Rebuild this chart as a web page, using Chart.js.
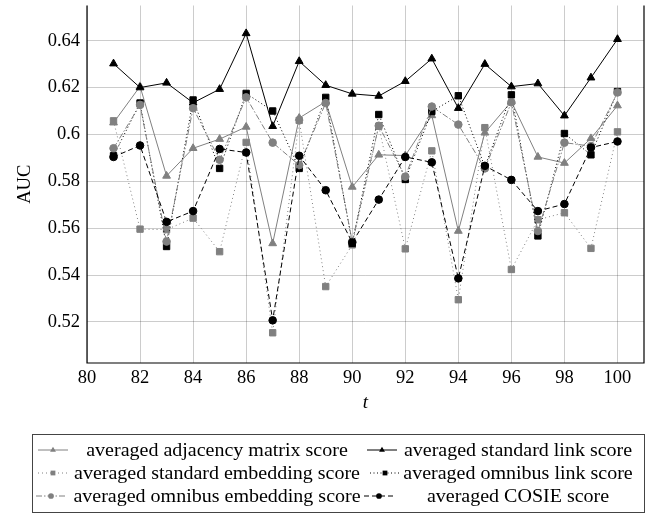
<!DOCTYPE html>
<html lang="en">
<head>
<meta charset="UTF-8">
<title>Averaged AUC scores</title>
<script src="https://cdn.jsdelivr.net/npm/chart.js"></script>
<style>
  html, body { margin: 0; padding: 0; background: #fff; }
  canvas { display: block; }
</style>
</head>
<body>
<canvas id="aucChart" width="662" height="516"></canvas>
<script>
const tValues = [81, 82, 83, 84, 85, 86, 87, 88, 89, 90, 91, 92, 93, 94, 95, 96, 97, 98, 99, 100];

const adjacencyScore     = [0.6050, 0.6205, 0.5823, 0.5941, 0.5980, 0.6032, 0.5535, 0.6070, 0.6140, 0.5776,
                            0.5913, 0.5910, 0.6081, 0.5588, 0.6007, 0.6140, 0.5904, 0.5878, 0.5983, 0.6123];
const standardLink       = [0.6302, 0.6200, 0.6220, 0.6135, 0.6193, 0.6431, 0.6035, 0.6312, 0.6210, 0.6173,
                            0.6164, 0.6227, 0.6323, 0.6112, 0.6300, 0.6204, 0.6217, 0.6080, 0.6242, 0.6406];
const standardEmbedding  = [0.6058, 0.5596, 0.5594, 0.5643, 0.5500, 0.5966, 0.5154, 0.6060, 0.5351, 0.5529,
                            0.6035, 0.5512, 0.5930, 0.5295, 0.6029, 0.5424, 0.5636, 0.5666, 0.5514, 0.6011];
const omnibusLink        = [0.5909, 0.6134, 0.5522, 0.6147, 0.5855, 0.6175, 0.6100, 0.5855, 0.6158, 0.5535,
                            0.6085, 0.5808, 0.6098, 0.6165, 0.5862, 0.6169, 0.5567, 0.6004, 0.5913, 0.6183];
const omnibusEmbedding   = [0.5941, 0.6126, 0.5543, 0.6112, 0.5892, 0.6158, 0.5965, 0.5869, 0.6134, 0.5543,
                            0.6037, 0.5820, 0.6119, 0.6042, 0.5855, 0.6137, 0.5588, 0.5965, 0.5950, 0.6179];
const cosieScore         = [0.5904, 0.5953, 0.5627, 0.5673, 0.5938, 0.5923, 0.5207, 0.5909, 0.5762, 0.5539,
                            0.5722, 0.5904, 0.5881, 0.5386, 0.5866, 0.5806, 0.5673, 0.5703, 0.5944, 0.5970];

const xTicks = [80, 82, 84, 86, 88, 90, 92, 94, 96, 98, 100];
const yTicks = [0.52, 0.54, 0.56, 0.58, 0.60, 0.62, 0.64];

const seriesLabels = [
  'averaged adjacency matrix score',
  'averaged standard link score',
  'averaged standard embedding score',
  'averaged omnibus link score',
  'averaged omnibus embedding score',
  'averaged COSIE score'
];

const GRAY = '#808080';
const SERIF = "'Liberation Serif', 'DejaVu Serif', serif";

function series(i, values, color, dash, marker, radius) {
  return {
    label: seriesLabels[i],
    data: values.map((v, k) => ({ x: tValues[k], y: v })),
    borderColor: color,
    backgroundColor: color,
    borderWidth: 1,
    borderDash: dash,
    pointStyle: marker,
    pointRadius: radius,
    pointBorderWidth: 1,
    pointBackgroundColor: color,
    pointBorderColor: color,
    tension: 0,
    order: 6 - i   // later series sit on top
  };
}

const datasets = [
  series(0, adjacencyScore,    GRAY,   [],             'triangle', 4.5),
  series(1, standardLink,      '#000', [],             'triangle', 4.5),
  series(2, standardEmbedding, GRAY,   [1, 3],         'rect',     4.5),
  series(3, omnibusLink,       '#000', [1, 2.5],       'rect',     4.5),
  series(4, omnibusEmbedding,  GRAY,   [6, 2, 1.5, 2], 'circle',   3.8),
  series(5, cosieScore,        '#000', [5, 3],         'circle',   3.8)
];

function marker(ctx, style, x, y, r, color) {
  ctx.fillStyle = color;
  ctx.beginPath();
  if (style === 'triangle') {
    for (let k = 0; k < 3; k++) {
      const a = k * 2 * Math.PI / 3;
      ctx.lineTo(x + Math.sin(a) * r, y - Math.cos(a) * r);
    }
    ctx.closePath();
  } else if (style === 'rect') {
    const s = r * Math.SQRT1_2;
    ctx.rect(x - s, y - s, 2 * s, 2 * s);
  } else {
    ctx.arc(x, y, r, 0, 2 * Math.PI);
  }
  ctx.fill();
}

// axis frame: left, bottom and right edges
const framePlugin = {
  id: 'frame',
  afterDraw(chart) {
    const { ctx, chartArea: a } = chart;
    ctx.save();
    ctx.strokeStyle = '#000';
    ctx.lineWidth = 1.2;
    ctx.beginPath();
    ctx.moveTo(a.left, a.top);
    ctx.lineTo(a.left, a.bottom);
    ctx.lineTo(a.right, a.bottom);
    ctx.lineTo(a.right, a.top);
    ctx.stroke();
    ctx.restore();
  }
};

// boxed two-column legend under the axes
const boxLegend = {
  id: 'boxLegend',
  afterDraw(chart) {
    const ctx = chart.ctx;
    const box = { left: 32, top: 434, right: 644, bottom: 512 };
    const rowY = [450, 473, 496];
    const sampleX = [[53, 382], [53, 385], [51, 379]];
    const textX = [217, 518];

    ctx.save();
    ctx.strokeStyle = '#444';
    ctx.lineWidth = 1;
    ctx.strokeRect(box.left + 0.5, box.top + 0.5, box.right - box.left, box.bottom - box.top);

    ctx.font = '18.4px ' + SERIF;
    const stretch = 286 / ctx.measureText(seriesLabels[2]).width;

    chart.data.datasets.forEach((ds, i) => {
      const row = Math.floor(i / 2), col = i % 2;
      const y = rowY[row], cx = sampleX[row][col];

      ctx.save();
      ctx.strokeStyle = ds.borderColor;
      ctx.lineWidth = 1;
      ctx.setLineDash(ds.borderDash);
      ctx.beginPath();
      ctx.moveTo(cx - 15, y);
      ctx.lineTo(cx + 15, y);
      ctx.stroke();
      ctx.restore();
      marker(ctx, ds.pointStyle, cx, y, ds.pointRadius * 0.75, ds.borderColor);

      ctx.save();
      ctx.translate(textX[col], y);
      ctx.scale(stretch, 1);
      ctx.fillStyle = '#000';
      ctx.textAlign = 'center';
      ctx.textBaseline = 'middle';
      ctx.fillText(ds.label, 0, 1);
      ctx.restore();
    });
    ctx.restore();
  }
};

const ctx = document.getElementById('aucChart').getContext('2d');
new Chart(ctx, {
  type: 'line',
  data: { datasets },
  plugins: [framePlugin, boxLegend],
  options: {
    responsive: false,
    animation: false,
    devicePixelRatio: 1,
    layout: { padding: { left: 0, right: 18, top: 0, bottom: 104 } },
    plugins: {
      legend: { display: false },
      tooltip: { enabled: false }
    },
    scales: {
      x: {
        type: 'linear',
        min: 80,
        max: 101,
        afterBuildTicks: s => { s.ticks = xTicks.map(v => ({ value: v })); },
        afterFit: s => { s.height = 49; s.paddingLeft = 0; s.paddingRight = 0; },
        grid: { color: 'rgba(0,0,0,0.2)', lineWidth: 1, drawTicks: false },
        border: { display: false },
        ticks: {
          padding: 4,
          color: '#000',
          maxRotation: 0,
          autoSkip: false,
          font: { family: SERIF, size: 18.5 },
          callback: v => String(v)
        },
        title: {
          display: true,
          text: 't',
          color: '#000',
          padding: 0,
          font: { family: SERIF, size: 19, style: 'italic', lineHeight: 1 }
        }
      },
      y: {
        min: 0.5025,
        max: 0.655,
        afterBuildTicks: s => { s.ticks = yTicks.map(v => ({ value: v })); },
        afterFit: s => { s.width = 87; s.paddingTop = 0; s.paddingBottom = 0; },
        grid: { color: 'rgba(0,0,0,0.2)', lineWidth: 1, drawTicks: false },
        border: { display: false },
        ticks: {
          padding: 7,
          color: '#000',
          font: { family: SERIF, size: 18.5 },
          callback: v => String(+v.toFixed(2))
        },
        title: {
          display: true,
          text: 'AUC',
          color: '#000',
          padding: { top: 16, bottom: 0 },
          font: { family: SERIF, size: 18.5, lineHeight: 1 }
        }
      }
    }
  }
});
</script>
</body>
</html>
